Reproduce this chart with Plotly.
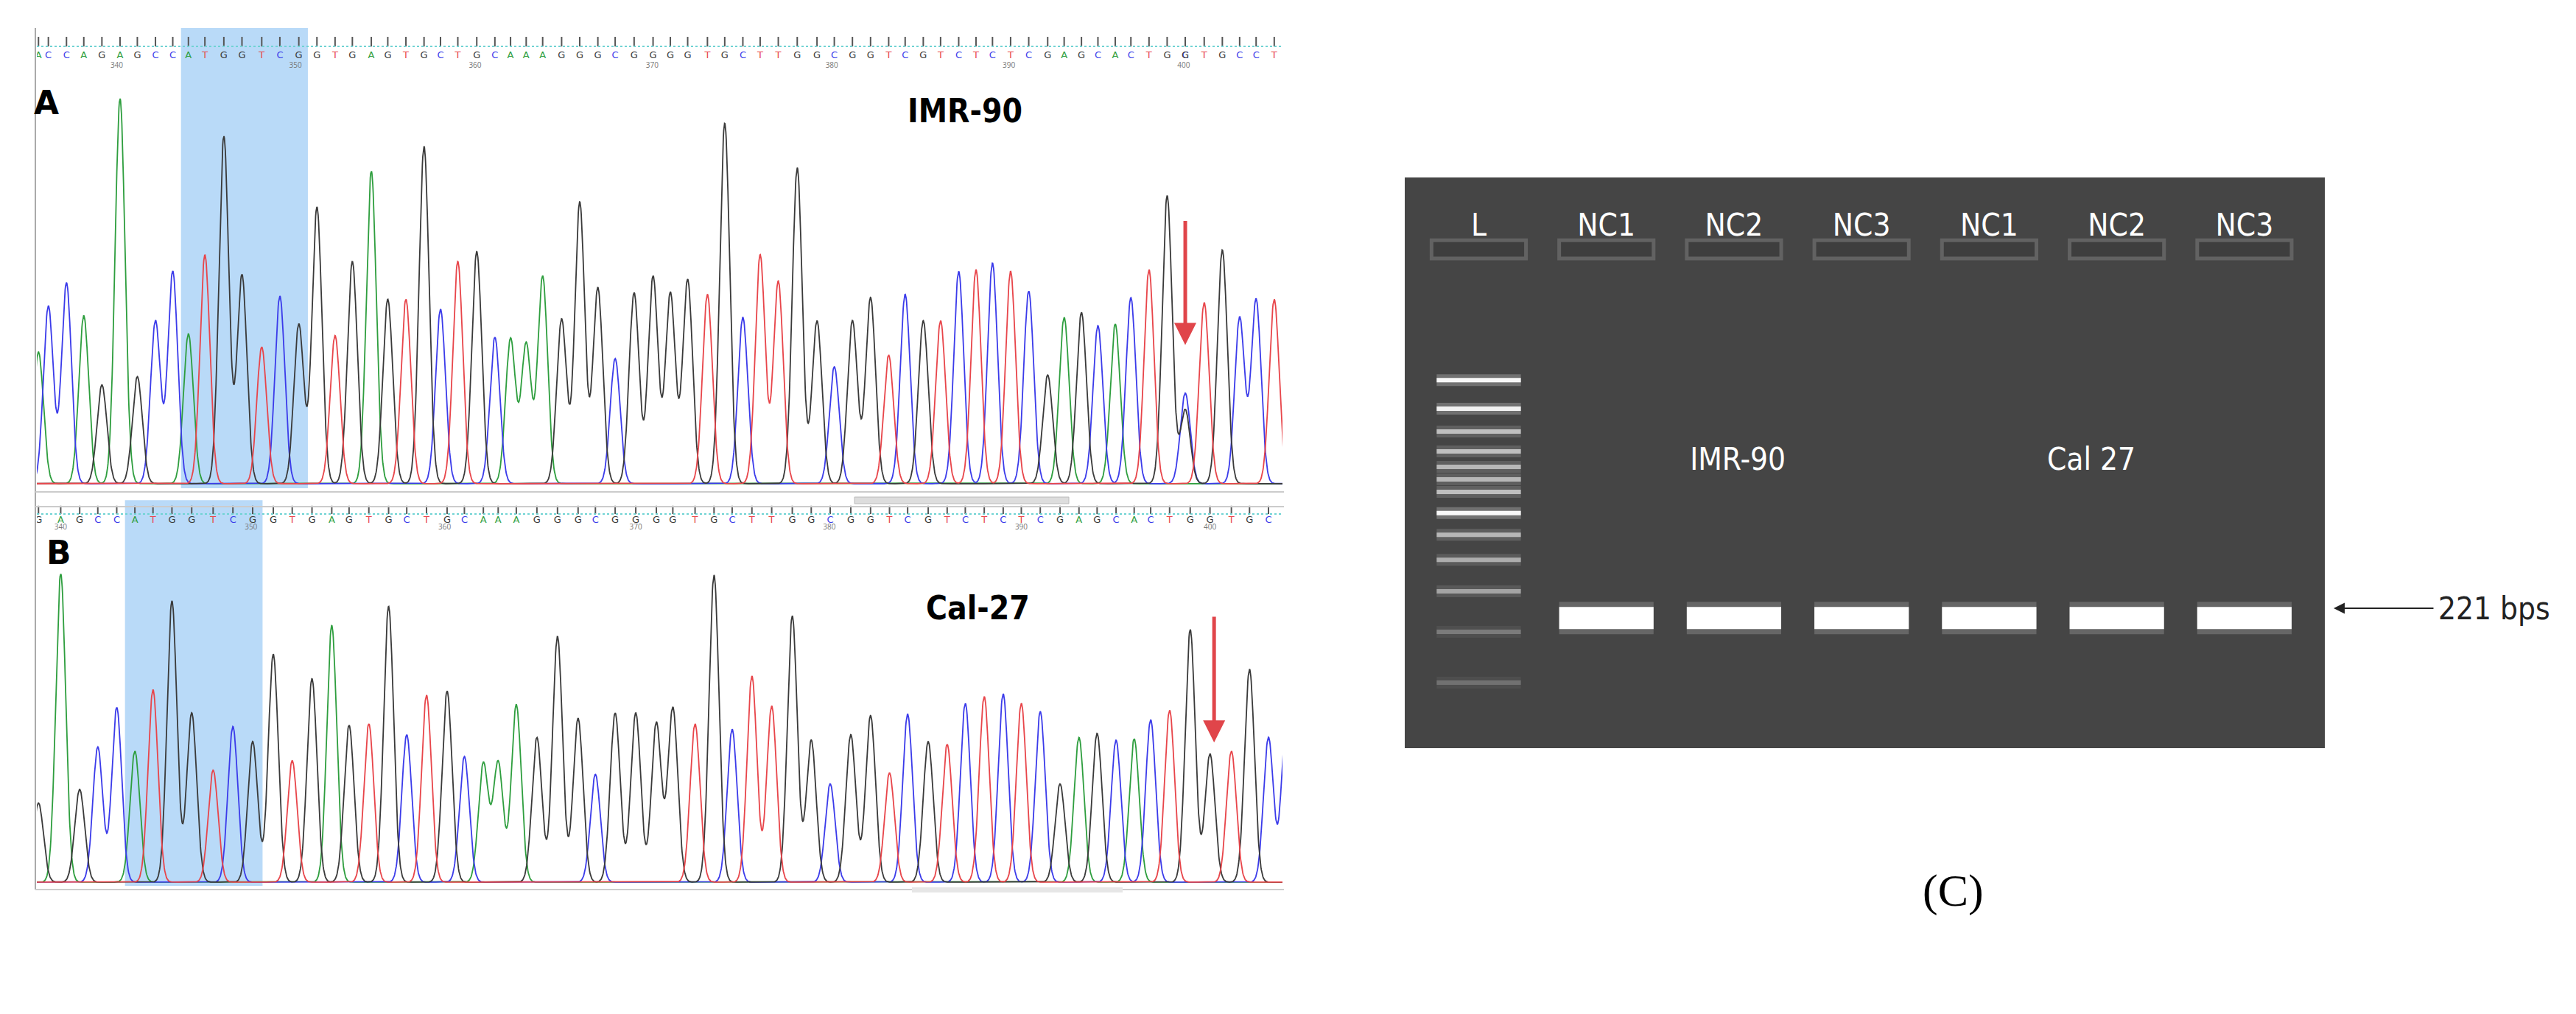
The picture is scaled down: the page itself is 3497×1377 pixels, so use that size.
import numpy as np
import plotly.graph_objects as go

# ---------------- data: chromatogram peaks (scan position, peak-top reading, base) --------------
A_pos = [40,52,74,95,117,139,160,182,203,222,242,265,287,311,333,356,378,400,421,444,464,486,508,528,549,572,594,613,632,652,675,697,719,740,763,786,807,828,852,873,895,916,938,961,985,1006,1028,1050,1072,1092,1114,1135,1157,1178,1198,1220,1242,1265,1285,1306,1326,1347,1366,1388,1410,1432,1432,1455,1477,1498,1518,1540]
A_top = [1065,925,855,955,1165,295,1140,970,820,1010,770,410,830,1050,895,980,625,1015,790,515,905,905,440,935,790,760,1020,1025,1040,835,965,610,870,1085,885,835,885,845,890,370,960,770,850,505,970,1110,970,900,1075,890,970,970,820,815,795,820,880,1135,960,945,985,980,900,815,590,1190,1240,915,755,960,905,905]
A_base = ("A C C A G A G C C A T G G T C G G T G A G T G C T G C A A A G G G C G G G G T G C T T G G C G G T C G T C T C T C G A G C A C T G C G T G C C T").split()
B_pos = [40,67,90,112,135,157,179,202,226,252,276,300,325,348,372,396,417,441,465,487,511,536,557,580,598,620,645,670,695,716,740,765,790,810,837,860,882,906,930,955,978,1001,1026,1050,1073,1095,1120,1143,1165,1188,1211,1233,1256,1280,1303,1325,1348,1370,1390,1413,1438,1462,1488,1510,1533,1555]
B_top = [1235,395,1185,1030,885,1045,820,495,905,1115,955,1010,690,1080,780,585,950,945,515,985,840,825,1065,1090,1085,875,995,625,925,1130,905,905,940,885,945,400,965,770,880,550,1005,1165,985,915,1125,910,1010,1020,870,845,835,870,900,1165,995,980,1005,1000,930,895,600,1055,1045,745,995,915]
B_base = ("G A G C C A T G G T C G G T G A G T G C T G C A A A G G G C G G G G T G C T T G G C G G T C G T C T C T C G A G C A C T G G T G C C").split()
A_ticks = [135,352,570,785,1003,1218,1430]
B_ticks = [67,298,533,765,1000,1233,1462]
tick_labels = ["340","350","360","370","380","390","400"]

# ---------------- data: gel ----------------
lane_labels = ["L","NC1","NC2","NC3","NC1","NC2","NC3"]
sample_lanes = [1,2,3,4,5,6]
band_221 = 77.2
ladder_pos = [35.5,40.5,44.5,48.0,50.7,52.9,55.1,58.8,62.6,67.0,72.5,79.6,88.5]
ladder_int = [0.95,0.9,0.6,0.6,0.55,0.55,0.6,0.95,0.55,0.5,0.45,0.25,0.2]

COL = {"A":"#2e9e3e","C":"#3b3bea","G":"#3a3a3a","T":"#e8454a"}
W, H = 3497, 1377
NARROW = "DejaVu Sans Condensed"
fig = go.Figure()

def chrom(pos, top, base, baseline, unit, xa, ya):
    xs = np.linspace(30, 1560, 3000)
    sig = [(baseline - t)/unit for t in top]
    for b in "ACGT":
        y = np.full_like(xs, 0.012)
        for p, s, bb in zip(pos, sig, base):
            if bb == b:
                y += s*np.exp(-0.5*((xs-p)/6.0)**2)
        fig.add_trace(go.Scatter(x=xs, y=y, mode="lines", line=dict(color=COL[b], width=1.8),
                                 xaxis=xa, yaxis=ya, showlegend=False, hoverinfo="skip"))

chrom(A_pos, A_top, A_base, 1465, 1170, "x", "y")
chrom(B_pos, B_top, B_base, 1525, 1130, "x2", "y2")

def ruler(pos, base, ticks, xa, ya, ytick, ylet, ynum):
    fig.add_trace(go.Scatter(x=pos, y=[ylet]*len(pos), mode="text", text=base,
                             textfont=dict(size=13, color=[COL[b] for b in base], family="DejaVu Sans"),
                             xaxis=xa, yaxis=ya, showlegend=False, hoverinfo="skip"))
    xs, ys = [], []
    for p in pos:
        xs += [p, p, None]; ys += [ytick[0], ytick[1], None]
    fig.add_trace(go.Scatter(x=xs, y=ys, mode="lines", line=dict(color="#555", width=2),
                             xaxis=xa, yaxis=ya, showlegend=False, hoverinfo="skip"))
    fig.add_trace(go.Scatter(x=ticks, y=[ynum]*len(ticks), mode="text", text=tick_labels,
                             textfont=dict(size=10, color="#777"),
                             xaxis=xa, yaxis=ya, showlegend=False, hoverinfo="skip"))

ruler(A_pos, A_base, A_ticks, "x", "y", (1.147, 1.172), 1.122, 1.097)
ruler(B_pos, B_base, B_ticks, "x2", "y2", (1.205, 1.232), 1.185, 1.162)

shapes = []
shapes.append(dict(type="rect", xref="x", yref="y", x0=213, x1=367, y0=0, y1=1.195,
                   fillcolor="#b9daf8", line_width=0, layer="below"))
shapes.append(dict(type="rect", xref="x2", yref="y2", x0=145, x1=312, y0=0, y1=1.25,
                   fillcolor="#b9daf8", line_width=0, layer="below"))
for ya, yv in (("y", 1.147), ("y2", 1.205)):
    shapes.append(dict(type="line", xref="x" if ya == "y" else "x2", yref=ya, x0=38, x1=1550,
                       y0=yv, y1=yv, line=dict(color="#6fd3d3", width=2, dash="dot")))
def px(x): return x/W
def py(y): return 1-y/H
shapes += [
    dict(type="line", xref="paper", yref="paper", x0=px(40), x1=px(40), y0=py(30), y1=py(1200), line=dict(color="#aaa", width=2)),
    dict(type="line", xref="paper", yref="paper", x0=px(40), x1=px(1735), y0=py(660), y1=py(660), line=dict(color="#ccc", width=2)),
    dict(type="line", xref="paper", yref="paper", x0=px(40), x1=px(1735), y0=py(680), y1=py(680), line=dict(color="#ccc", width=2)),
    dict(type="rect", xref="paper", yref="paper", x0=px(1152), x1=px(1443), y0=py(667), y1=py(676), fillcolor="#ddd", line=dict(color="#bbb", width=1)),
    dict(type="line", xref="paper", yref="paper", x0=px(40), x1=px(1735), y0=py(1200), y1=py(1200), line=dict(color="#ccc", width=2)),
    dict(type="rect", xref="paper", yref="paper", x0=px(1230), x1=px(1516), y0=py(1197), y1=py(1204), fillcolor="#e6e6e6", line_width=0),
]

# ---------------- gel ----------------
shapes.append(dict(type="rect", xref="x3 domain", yref="y3 domain", x0=0, x1=1, y0=0, y1=1,
                   fillcolor="#454545", line_width=0, layer="below"))
for i in range(len(lane_labels)):
    shapes.append(dict(type="rect", xref="x3", yref="y3", x0=i-0.37, x1=i+0.37, y0=11.0, y1=14.2,
                       line=dict(color="#626262", width=5), fillcolor="#3e3e3e", layer="below"))
for wdt, col in ((44, "rgba(255,255,255,0.18)"), (30, "rgba(255,255,255,1)")):
    xs, ys = [], []
    for l in sample_lanes:
        xs += [l-0.37, l+0.37, None]; ys += [band_221, band_221, None]
    fig.add_trace(go.Scatter(x=xs, y=ys, mode="lines", line=dict(color=col, width=wdt),
                             xaxis="x3", yaxis="y3", showlegend=False, hoverinfo="skip"))
for p, it in zip(ladder_pos, ladder_int):
    fig.add_trace(go.Scatter(x=[-0.33, 0.33], y=[p, p], mode="lines",
                             line=dict(color=f"rgba(255,255,255,{it*0.25:.2f})", width=16),
                             xaxis="x3", yaxis="y3", showlegend=False, hoverinfo="skip"))
    fig.add_trace(go.Scatter(x=[-0.33, 0.33], y=[p, p], mode="lines",
                             line=dict(color=f"rgba(255,255,255,{it:.2f})", width=6),
                             xaxis="x3", yaxis="y3", showlegend=False, hoverinfo="skip"))
fig.add_trace(go.Scatter(x=list(range(len(lane_labels))), y=[8.8]*len(lane_labels), mode="text",
                         text=lane_labels, textfont=dict(size=42, color="white", family=NARROW),
                         xaxis="x3", yaxis="y3", showlegend=False, hoverinfo="skip"))
fig.add_trace(go.Scatter(x=[2.03, 4.8], y=[49.9, 49.9], mode="text", text=["IMR-90", "Cal 27"],
                         textfont=dict(size=42, color="white", family=NARROW),
                         xaxis="x3", yaxis="y3", showlegend=False, hoverinfo="skip"))

ann = [
    dict(x=50, y=1.0, xref="x", yref="y", text="<b>A</b>", showarrow=False, font=dict(size=44, color="black", family="DejaVu Sans")),
    dict(x=1165, y=0.98, xref="x", yref="y", text="<b>IMR-90</b>", showarrow=False, font=dict(size=44, color="black", family=NARROW)),
    dict(x=65, y=1.08, xref="x2", yref="y2", text="<b>B</b>", showarrow=False, font=dict(size=44, color="black", family="DejaVu Sans")),
    dict(x=1180, y=0.90, xref="x2", yref="y2", text="<b>Cal-27</b>", showarrow=False, font=dict(size=44, color="black", family=NARROW)),
    dict(x=1432, y=0.372, xref="x", yref="y", ax=1432, ay=0.697, axref="x", ayref="y", text="", showarrow=True,
         arrowhead=2, arrowsize=1.2, arrowwidth=5, arrowcolor="#e0454a"),
    dict(x=1467, y=0.465, xref="x2", yref="y2", ax=1467, ay=0.876, axref="x2", ayref="y2", text="", showarrow=True,
         arrowhead=2, arrowsize=1.2, arrowwidth=5, arrowcolor="#e0454a"),
    dict(x=px(3160), y=py(818), xref="paper", yref="paper", ax=137, ay=0, text="", showarrow=True,
         arrowhead=2, arrowsize=1.5, arrowwidth=2, arrowcolor="#222"),
    dict(x=px(3300), y=py(818), xref="paper", yref="paper", xanchor="left", text="221 bps", showarrow=False,
         font=dict(size=42, color="#222", family=NARROW)),
    dict(x=px(2687), y=py(1238), xref="paper", yref="paper", text="(C)", showarrow=False,
         font=dict(size=62, color="black", family="Liberation Serif")),
]

noax = dict(showgrid=False, zeroline=False, showticklabels=False, ticks="", showline=False)
fig.update_layout(
    width=W, height=H, margin=dict(l=0, r=0, t=0, b=0),
    paper_bgcolor="white", plot_bgcolor="rgba(0,0,0,0)",
    shapes=shapes, annotations=ann, showlegend=False,
    xaxis=dict(domain=[42/W, 1733/W], range=[38, 1550], **noax),
    yaxis=dict(domain=[1-665/H, 1-30/H], range=[-0.019, 1.195], **noax),
    xaxis2=dict(domain=[42/W, 1733/W], range=[38, 1550], anchor="y2", **noax),
    yaxis2=dict(domain=[1-1205/H, 1-670/H], range=[-0.024, 1.253], anchor="x2", **noax),
    xaxis3=dict(domain=[1899/W, 3148/W], range=[-0.58, 6.63], anchor="y3", **noax),
    yaxis3=dict(domain=[1-1008/H, 1-233/H], range=[100, 0], anchor="x3", **noax),
)
fig.write_html("out.html")
